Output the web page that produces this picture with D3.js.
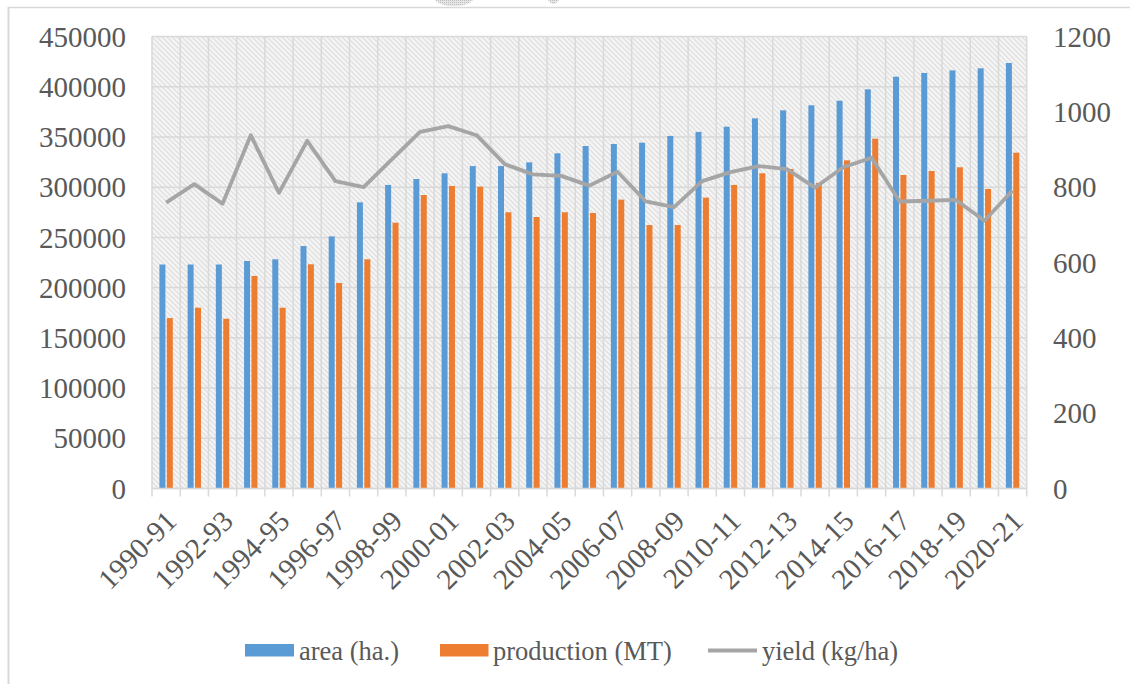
<!DOCTYPE html>
<html><head><meta charset="utf-8">
<script src="https://cdn.jsdelivr.net/npm/d3@7"></script>
<style>body{margin:0;background:#fff}svg{display:block}</style>
</head><body>
<script>
const categories = ["1990-91","1991-92","1992-93","1993-94","1994-95","1995-96","1996-97","1997-98","1998-99","1999-00","2000-01","2001-02","2002-03","2003-04","2004-05","2005-06","2006-07","2007-08","2008-09","2009-10","2010-11","2011-12","2012-13","2013-14","2014-15","2015-16","2016-17","2017-18","2018-19","2019-20","2020-21"];
const area = [223000,223000,223000,226500,228200,241400,251000,284900,302200,308100,313800,321000,321000,324700,333700,341000,343000,344300,351000,355000,360200,368500,376500,381500,386100,397400,410000,413700,416300,418300,423600];
const production = [169700,180000,169000,211600,180000,223200,204600,228200,264600,292200,301200,300500,275000,270300,275000,274300,287600,262300,262300,289600,302200,313800,318100,304200,326700,348300,312100,316100,319800,298200,334300];
const yieldKg = [759,808,756,938,785,923,816,800,874,947,962,938,861,834,830,804,841,762,747,816,840,856,848,799,853,878,762,764,766,711,791];
const leftTicks = [0,50000,100000,150000,200000,250000,300000,350000,400000,450000];
const rightTicks = [0,200,400,600,800,1000,1200];
const seriesNames = ["area (ha.)","production (MT)","yield (kg/ha)"];

const W = 1130, H = 684;
const m = {left:152, right:1026.7, top:36.5, bottom:488.5};
const font = "Liberation Serif, Times New Roman, serif";
const txt = "#595959";

const svg = d3.select("body").append("svg").attr("width", W).attr("height", H);
const defs = svg.append("defs");
const pat = defs.append("pattern").attr("id","hatch").attr("patternUnits","userSpaceOnUse")
  .attr("width",5).attr("height",5);
pat.append("rect").attr("width",5).attr("height",5).attr("fill","#f5f5f5");
pat.append("path").attr("d","M-1,-1 L6,6 M-1,4 L1,6 M4,-1 L6,1").attr("stroke","#e0e0e0").attr("stroke-width",1.3);
const dots = defs.append("pattern").attr("id","dots").attr("patternUnits","userSpaceOnUse").attr("width",2).attr("height",2);
dots.append("rect").attr("width",2).attr("height",2).attr("fill","#e6e6e6");
dots.append("rect").attr("width",1).attr("height",1).attr("fill","#bdbdbd");

// outer frame (top + left visible)
svg.append("line").attr("x1",8).attr("x2",W).attr("y1",7.5).attr("y2",7.5).attr("stroke","#d9d9d9").attr("stroke-width",1.5);
svg.append("line").attr("x1",8.5).attr("x2",8.5).attr("y1",7).attr("y2",H).attr("stroke","#d9d9d9").attr("stroke-width",2);
// small handle artifacts at top
svg.append("path").attr("d","M435,0 L473,0 Q468,6 454,6 Q440,6 435,0 Z").attr("fill","url(#dots)");
svg.append("path").attr("d","M548,0 L559,0 Q556,4 553.5,4 Q551,4 548,0 Z").attr("fill","url(#dots)");

const x = d3.scaleBand().domain(categories).range([m.left, m.right]).paddingInner(0).paddingOuter(0);
const yL = d3.scaleLinear().domain([0,450000]).range([m.bottom, m.top]);
const yR = d3.scaleLinear().domain([0,1200]).range([m.bottom, m.top]);

// plot background
svg.append("rect").attr("x",m.left).attr("y",m.top).attr("width",m.right-m.left).attr("height",m.bottom-m.top).attr("fill","url(#hatch)");

// horizontal gridlines
svg.append("g").selectAll("line").data(leftTicks).join("line")
  .attr("x1",m.left).attr("x2",m.right).attr("y1",d=>yL(d)).attr("y2",d=>yL(d))
  .attr("stroke","#d9d9d9").attr("stroke-width",1.5);
// vertical gridlines at category boundaries
const bounds = categories.map(c=>x(c)).concat([m.right]);
svg.append("g").selectAll("line").data(bounds).join("line")
  .attr("x1",d=>d).attr("x2",d=>d).attr("y1",m.top).attr("y2",m.bottom+8)
  .attr("stroke","#d9d9d9").attr("stroke-width",1.5);

// bars
const bw = 6, gap = 0.7;
svg.append("g").selectAll("rect").data(area).join("rect")
  .attr("x",(d,i)=>x(categories[i])+x.bandwidth()/2-bw-gap).attr("width",bw)
  .attr("y",d=>yL(d)).attr("height",d=>yL(0)-yL(d)).attr("fill","#5B9BD5");
svg.append("g").selectAll("rect").data(production).join("rect")
  .attr("x",(d,i)=>x(categories[i])+x.bandwidth()/2+gap).attr("width",bw)
  .attr("y",d=>yL(d)).attr("height",d=>yL(0)-yL(d)).attr("fill","#ED7D31");

// x axis line
svg.append("line").attr("x1",m.left).attr("x2",m.right).attr("y1",m.bottom).attr("y2",m.bottom).attr("stroke","#d9d9d9").attr("stroke-width",1.5);

// yield line
const line = d3.line().x((d,i)=>x(categories[i])+x.bandwidth()/2).y(d=>yR(d));
svg.append("path").datum(yieldKg).attr("d",line).attr("fill","none").attr("stroke","#A5A5A5").attr("stroke-width",3.8).attr("stroke-linejoin","round");

// left axis labels
svg.append("g").selectAll("text").data(leftTicks).join("text")
  .attr("x",126).attr("y",d=>yL(d)).attr("dy","0.35em").attr("text-anchor","end")
  .attr("font-family",font).attr("font-size",29).attr("fill",txt).text(d=>d);
// right axis labels
svg.append("g").selectAll("text").data(rightTicks).join("text")
  .attr("x",1053).attr("y",d=>yR(d)).attr("dy","0.35em").attr("text-anchor","start")
  .attr("font-family",font).attr("font-size",29).attr("fill",txt).text(d=>d);
// x labels
svg.append("g").selectAll("text").data(categories.filter((c,i)=>i%2===0)).join("text")
  .attr("transform",d=>`translate(${x(d)+x.bandwidth()/2+5},${m.bottom+27}) rotate(-45)`)
  .attr("text-anchor","end").attr("dy","0.35em")
  .attr("font-family",font).attr("font-size",29).attr("fill",txt).text(d=>d);

// legend
const lg = svg.append("g").attr("font-family",font).attr("font-size",26.5).attr("fill",txt);
lg.append("rect").attr("x",245).attr("y",644).attr("width",49).attr("height",12.5).attr("fill","#5B9BD5");
lg.append("text").attr("x",299).attr("y",660).text(seriesNames[0]);
lg.append("rect").attr("x",440).attr("y",644).attr("width",48.5).attr("height",12.5).attr("fill","#ED7D31");
lg.append("text").attr("x",493).attr("y",660).text(seriesNames[1]);
lg.append("line").attr("x1",708).attr("x2",757).attr("y1",650.5).attr("y2",650.5).attr("stroke","#A5A5A5").attr("stroke-width",4);
lg.append("text").attr("x",762).attr("y",660).text(seriesNames[2]);
</script>
</body></html>
